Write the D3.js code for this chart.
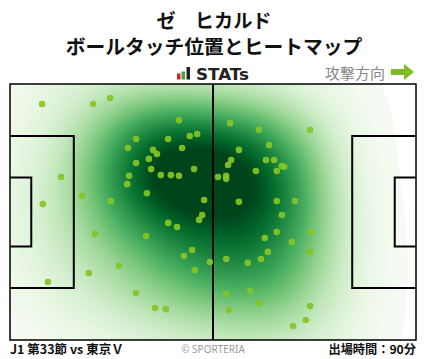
<!DOCTYPE html>
<html><head><meta charset="utf-8">
<script src="https://cdn.jsdelivr.net/npm/d3@7"></script>
<style>
html,body{margin:0;padding:0;background:#fff;}
svg{display:block;}
</style></head>
<body>
<svg id="chart" width="428" height="359"></svg>
<script>
// Title texts
const titleLines = ["ゼ　ヒカルド", "ボールタッチ位置とヒートマップ"];
const directionLabel = "攻撃方向";
const footerLeft = "J1 第33節 vs 東京Ｖ";
const footerCenter = "© SPORTERIA";
const footerRight = "出場時間：90分";

// Pitch dimensions (meters)
const pitchLength = 105, pitchWidth = 68;

// Ball touch positions (meters from left/top corner of pitch)
const touchX = [8.3,21.5,25.9,43.7,32.6,40.9,46.5,48.4,30.5,37.0,38.0,44.5,35.9,32.6,47.6,36.5,39.0,41.6,43.7,30.8,30.3,35.4,50.2,13.2,18.6,8.5,26.1,22.0,35.2,40.9,43.2,9.8,20.4,28.2,32.6,37.5,40.3,45.0,47.1,47.8,51.7,48.9,49.7,
  56.9,64.4,77.6,67.0,59.2,57.2,56.4,66.2,68.3,53.8,55.9,55.9,63.6,69.0,70.3,70.9,59.2,69.0,73.7,70.3,65.9,69.0,77.8,72.9,66.7,77.6,55.9,61.5,64.9,55.9,62.1,64.4,56.6,77.6,76.5,73.2];
const touchY = [5.3,5.3,3.7,9.6,14.6,14.6,13.8,13.3,17.0,17.5,18.6,17.0,19.9,21.0,22.6,22.6,24.2,24.2,24.4,24.4,26.6,29.0,30.8,24.7,29.7,31.9,31.1,39.8,40.4,36.9,38.0,52.6,50.2,48.3,55.5,59.5,59.8,45.7,44.1,49.4,47.3,36.1,34.8,
  10.4,12.2,12.2,16.2,17.5,20.2,21.5,20.2,20.2,24.7,24.4,25.2,23.1,23.1,21.8,22.0,31.3,31.1,31.1,34.8,40.9,39.3,39.3,42.0,44.6,44.6,46.5,47.5,46.5,55.8,55.0,58.2,60.0,59.0,62.7,64.3];

const svg = d3.select("#chart");
const FONT = "'Noto Sans CJK JP','Noto Sans',sans-serif";

const xs = d3.scaleLinear().domain([0, pitchLength]).range([10, 416]);
const ys = d3.scaleLinear().domain([0, pitchWidth]).range([84, 340]);

const touches = touchX.map((x, i) => ({x, y: touchY[i]}));

// Titles
svg.append("text").attr("x", 214).attr("y", 27.5).attr("text-anchor", "middle")
  .attr("font-family", FONT).attr("font-weight", "bold").attr("font-size", 19.2).attr("fill", "#111")
  .text(titleLines[0]);
svg.append("text").attr("x", 214).attr("y", 54).attr("text-anchor", "middle")
  .attr("font-family", FONT).attr("font-weight", "bold").attr("font-size", 19.8).attr("fill", "#111")
  .text(titleLines[1]);

// STATs logo
const logo = svg.append("g");
logo.append("rect").attr("x", 177).attr("y", 73.5).attr("width", 3.5).attr("height", 6).attr("fill", "#e02020");
logo.append("rect").attr("x", 181.5).attr("y", 71.5).attr("width", 3.5).attr("height", 8).attr("fill", "#3aaa35");
logo.append("rect").attr("x", 186.5).attr("y", 67).attr("width", 3.5).attr("height", 12.5).attr("fill", "#222");
logo.append("text").attr("x", 196).attr("y", 79.5).attr("font-family", "'DejaVu Sans',sans-serif")
  .attr("font-weight", "bold").attr("font-size", 15.5).attr("fill", "#222").attr("textLength", 53)
  .attr("lengthAdjust", "spacingAndGlyphs").text("STATs");

// Direction label + arrow
svg.append("text").attr("x", 385).attr("y", 78.5).attr("text-anchor", "end")
  .attr("font-family", FONT).attr("font-size", 15).attr("fill", "#888").text(directionLabel);
svg.append("path").attr("d", "M391,69 L404,69 L404,64 L414,72 L404,80 L404,75 L391,75 Z").attr("fill", "#7cbb26");

// Clip for pitch
svg.append("defs").append("clipPath").attr("id", "pclip").append("rect")
  .attr("x", xs(0)).attr("y", ys(0)).attr("width", xs(pitchLength) - xs(0)).attr("height", ys(pitchWidth) - ys(0));

// Heatmap
const density = d3.contourDensity()
  .x(d => xs(d.x)).y(d => ys(d.y))
  .size([428, 359]).cellSize(2).bandwidth(42).thresholds(100)(touches);
const maxV = d3.max(density, d => d.value);
const color = d3.scaleSequential(d3.interpolateGreens).domain([0, maxV * 0.9]);
svg.append("g").attr("clip-path", "url(#pclip)")
  .selectAll("path").data(density).join("path")
  .attr("d", d3.geoPath()).attr("fill", d => color(d.value));

// Pitch lines
const lines = svg.append("g").attr("fill", "none").attr("stroke", "#000");
lines.append("rect").attr("x", xs(0)).attr("y", ys(0)).attr("width", xs(pitchLength) - xs(0)).attr("height", ys(pitchWidth) - ys(0)).attr("stroke-width", 1.5);
lines.append("line").attr("x1", xs(pitchLength / 2)).attr("x2", xs(pitchLength / 2)).attr("y1", ys(0)).attr("y2", ys(pitchWidth)).attr("stroke-width", 2);
const boxes = [[16.5, 40.32], [5.5, 18.32]];
boxes.forEach(([d, w]) => {
  const y0 = ys((pitchWidth - w) / 2), y1 = ys((pitchWidth + w) / 2);
  lines.append("path").attr("stroke-width", 2)
    .attr("d", `M${xs(0)},${y0} L${xs(d)},${y0} L${xs(d)},${y1} L${xs(0)},${y1}`);
  lines.append("path").attr("stroke-width", 2)
    .attr("d", `M${xs(pitchLength)},${y0} L${xs(pitchLength - d)},${y0} L${xs(pitchLength - d)},${y1} L${xs(pitchLength)},${y1}`);
});

// Touch points
svg.append("g").selectAll("circle").data(touches).join("circle")
  .attr("cx", d => xs(d.x)).attr("cy", d => ys(d.y)).attr("r", 3.3)
  .attr("fill", "#86c425").attr("fill-opacity", 0.92);

// Footer
svg.append("text").attr("x", 10).attr("y", 354).attr("font-family", FONT).attr("font-weight", "bold")
  .attr("font-size", 12.5).attr("fill", "#111").text(footerLeft);
svg.append("text").attr("x", 213).attr("y", 352.5).attr("text-anchor", "middle").attr("font-family", "'Noto Sans',sans-serif")
  .attr("font-size", 10).attr("fill", "#999").text(footerCenter);
svg.append("text").attr("x", 416).attr("y", 354).attr("text-anchor", "end").attr("font-family", FONT).attr("font-weight", "bold")
  .attr("font-size", 12.2).attr("fill", "#111").text(footerRight);
</script>
</body></html>
